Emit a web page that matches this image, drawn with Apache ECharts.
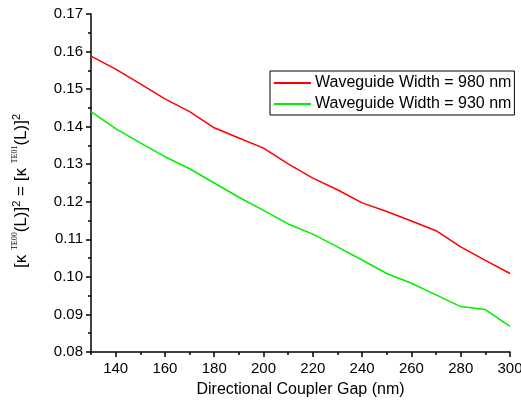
<!DOCTYPE html>
<html>
<head>
<meta charset="utf-8">
<script src="https://cdn.jsdelivr.net/npm/echarts@6/dist/echarts.min.js"></script>
<style>
html,body{margin:0;padding:0;background:#fff;}
#main{width:521px;height:407px;}
</style>
</head>
<body>
<div id="main"></div>
<script>
// gap (nm)
var gaps = [130,140,150,160,170,180,190,200,210,220,230,240,250,260,270,280,290,300];
// coupling for width 980 nm
var w980 = [0.1588,0.1553,0.1514,0.1474,0.1440,0.1397,0.1370,0.1343,0.1301,0.1263,0.1232,0.1197,0.1174,0.1149,0.1123,0.1080,0.1044,0.1009];
// coupling for width 930 nm
var w930 = [0.1440,0.1395,0.1357,0.1320,0.1288,0.1250,0.1212,0.1177,0.1141,0.1114,0.1080,0.1045,0.1009,0.0983,0.0952,0.0921,0.0913,0.0868];
var xMajor = [140,160,180,200,220,240,260,280,300];
var xMinor = [130,150,170,190,210,230,250,270,290];

var chart = echarts.init(document.getElementById('main'));
var font = 'Liberation Sans, Arial, sans-serif';

var option = {
    animation:false,
    grid:{left:91,right:11,top:14,bottom:55,outerBoundsMode:'none',containLabel:false},
    legend:{
        left:270, top:71,
        orient:'vertical',
        borderColor:'#000', borderWidth:1,
        padding:[4,3,3,4],
        itemGap:5,
        icon:'rect',
        itemWidth:37, itemHeight:2,
        textStyle:{fontFamily:font,fontSize:16,color:'#000',padding:[0,0,0,-1]},
        data:['Waveguide Width = 980 nm','Waveguide Width = 930 nm']
    },
    xAxis:[{
        type:'value', min:130, max:300,
        name:'Directional Coupler Gap (nm)',
        nameLocation:'middle', nameGap:30,
        nameTextStyle:{fontFamily:font,fontSize:16,color:'#000'},
        axisLine:{lineStyle:{color:'#000',width:1.5}},
        axisTick:{customValues:xMajor,length:5,lineStyle:{color:'#000',width:1.5}},
        axisLabel:{customValues:xMajor,fontFamily:font,fontSize:15,color:'#000',margin:9},
        splitLine:{show:false}
    },{
        type:'value', min:130, max:300, position:'bottom',
        axisLine:{show:false},
        axisTick:{customValues:xMinor,length:3,lineStyle:{color:'#000',width:1.5}},
        axisLabel:{show:false},
        splitLine:{show:false}
    }],
    yAxis:{
        type:'value', min:0.08, max:0.17, interval:0.01,
        name:'{s|[κ }{sup|TE00}{s|(L)]}{sup2|2}{s| = [κ }{sup|TE01}{s|(L)]}{sup2|2}',
        nameLocation:'middle', nameGap:61,
        nameTextStyle:{
            color:'#000',
            padding:[0,16,0,0],
            rich:{
                s:{fontFamily:font,fontSize:17,lineHeight:19,verticalAlign:'bottom',color:'#000'},
                sup:{fontFamily:'Liberation Serif, serif',fontSize:8,lineHeight:19,verticalAlign:'top',color:'#000'},
                sup2:{fontFamily:font,fontSize:11,lineHeight:19,verticalAlign:'top',color:'#000'}
            }
        },
        axisLine:{show:true,lineStyle:{color:'#000',width:1.5}},
        axisTick:{length:5,lineStyle:{color:'#000',width:1.5}},
        minorTick:{show:true,splitNumber:2,length:3,lineStyle:{color:'#000',width:1.5}},
        axisLabel:{fontFamily:font,fontSize:15,color:'#000',margin:8,
            formatter:function(v){return v.toFixed(2);}},
        splitLine:{show:false}
    },
    series:[{
        name:'Waveguide Width = 980 nm', type:'line', symbol:'none',
        lineStyle:{color:'#ff0000',width:1.5}, itemStyle:{color:'#ff0000'},
        data:gaps.map(function(g,i){return [g,w980[i]];})
    },{
        name:'Waveguide Width = 930 nm', type:'line', symbol:'none',
        lineStyle:{color:'#00ee00',width:1.5}, itemStyle:{color:'#00ee00'},
        data:gaps.map(function(g,i){return [g,w930[i]];})
    }]
};
chart.setOption(option);
</script>
</body>
</html>
